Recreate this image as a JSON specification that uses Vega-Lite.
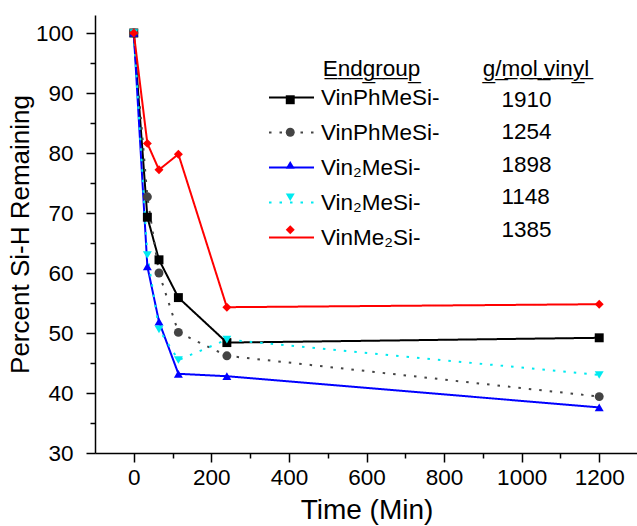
{
  "$schema": "https://vega.github.io/schema/vega-lite/v6.json",
  "width": 543,
  "height": 438,
  "autosize": {"type": "none"},
  "padding": {"left": 95, "top": 15, "right": 0, "bottom": 73},
  "background": "white",
  "config": {
    "view": {"stroke": null},
    "font": "Liberation Sans",
    "axis": {
      "domainColor": "#000000", "domainWidth": 1.5,
      "tickColor": "#000000", "tickWidth": 1.5,
      "labelColor": "#000000", "labelFont": "Liberation Sans", "labelFontSize": 22.5, "labelPadding": 4,
      "titleFont": "Liberation Sans", "titleFontSize": 26, "titleFontWeight": "normal", "titleColor": "#000000",
      "grid": false
    },
    "legend": {
      "orient": "none",
      "padding": 0,
      "labelFont": "Liberation Sans", "labelFontSize": 22.5, "labelColor": "#000000", "labelLimit": 300,
      "titleFont": "Liberation Sans", "titleFontSize": 22.5, "titleFontWeight": "normal", "titleColor": "#000000", "titleLimit": 500,
      "rowPadding": 8,
      "titlePadding": 8
    }
  },
  "data": {
    "values": [
      {"series": "s1", "marker": "m1", "time": 0, "pct": 100},
      {"series": "s1", "marker": "m1", "time": 35, "pct": 69.3},
      {"series": "s1", "marker": "m1", "time": 65, "pct": 62.2},
      {"series": "s1", "marker": "m1", "time": 115, "pct": 55.9},
      {"series": "s1", "marker": "m1", "time": 240, "pct": 48.4},
      {"series": "s1", "marker": "m1", "time": 1200, "pct": 49.2},
      {"series": "s2", "marker": "m2", "time": 0, "pct": 100},
      {"series": "s2", "marker": "m2", "time": 35, "pct": 72.7},
      {"series": "s2", "marker": "m2", "time": 65, "pct": 60.0},
      {"series": "s2", "marker": "m2", "time": 115, "pct": 50.1},
      {"series": "s2", "marker": "m2", "time": 240, "pct": 46.2},
      {"series": "s2", "marker": "m2", "time": 1200, "pct": 39.4},
      {"series": "s3", "marker": "m3", "time": 0, "pct": 100},
      {"series": "s3", "marker": "m3", "time": 35, "pct": 61.1},
      {"series": "s3", "marker": "m3", "time": 65, "pct": 51.9},
      {"series": "s3", "marker": "m3", "time": 115, "pct": 43.2},
      {"series": "s3", "marker": "m3", "time": 240, "pct": 42.8},
      {"series": "s3", "marker": "m3", "time": 1200, "pct": 37.6},
      {"series": "s4", "marker": "m4", "time": 0, "pct": 100},
      {"series": "s4", "marker": "m4", "time": 35, "pct": 63.0},
      {"series": "s4", "marker": "m4", "time": 65, "pct": 50.6},
      {"series": "s4", "marker": "m4", "time": 115, "pct": 45.5},
      {"series": "s4", "marker": "m4", "time": 240, "pct": 48.9},
      {"series": "s4", "marker": "m4", "time": 1200, "pct": 43.0},
      {"series": "s5", "marker": "m5", "time": 0, "pct": 100},
      {"series": "s5", "marker": "m5", "time": 35, "pct": 81.6},
      {"series": "s5", "marker": "m5", "time": 65, "pct": 77.2},
      {"series": "s5", "marker": "m5", "time": 115, "pct": 79.8},
      {"series": "s5", "marker": "m5", "time": 240, "pct": 54.3},
      {"series": "s5", "marker": "m5", "time": 1200, "pct": 54.8}
    ]
  },
  "encoding": {
    "x": {
      "field": "time", "type": "quantitative",
      "scale": {"domain": [-100, 1300], "nice": false, "zero": false},
      "axis": {
        "title": "Time (Min)",
        "format": "d",
        "values": [0, 100, 200, 300, 400, 500, 600, 700, 800, 900, 1000, 1100, 1200],
        "labelExpr": "datum.value % 200 === 0 ? datum.label : ''",
        "tickSize": {"condition": {"test": "datum.value % 200 === 0", "value": 9}, "value": 5},
        "titleFontSize": 28,
        "titlePadding": 8
      }
    },
    "y": {
      "field": "pct", "type": "quantitative",
      "scale": {"domain": [30, 103], "nice": false, "zero": false},
      "axis": {
        "title": "Percent Si-H Remaining",
        "values": [30, 35, 40, 45, 50, 55, 60, 65, 70, 75, 80, 85, 90, 95, 100],
        "labelExpr": "datum.value % 10 === 0 ? datum.label : ''",
        "tickSize": {"condition": {"test": "datum.value % 10 === 0", "value": 9}, "value": 5},
        "labelPadding": 13,
        "titlePadding": 2
      }
    }
  },
  "layer": [
    {
      "mark": {"type": "line", "strokeWidth": 2},
      "encoding": {
        "color": {
          "field": "series", "type": "nominal",
          "scale": {"domain": ["s1", "s2", "s3", "s4", "s5"], "range": ["#000000", "#444444", "#0000ff", "#00eaf0", "#ff0000"]},
          "legend": {
            "title": null,
            "legendX": 173, "legendY": 59,
            "symbolSize": 2025,
            "symbolStrokeWidth": 2,
            "labelOffset": 6,
            "rowPadding": 0,
            "labelExpr": "datum.value=='s1'||datum.value=='s2' ? 'VinPhMeSi-' : datum.value=='s5' ? 'VinMe₂Si-' : 'Vin₂MeSi-'"
          }
        },
        "strokeDash": {
          "field": "series", "type": "nominal",
          "scale": {"domain": ["s1", "s2", "s3", "s4", "s5"], "range": [[1, 0], [2.5, 8], [1, 0], [2.5, 8], [1, 0]]}
        }
      }
    },
    {
      "mark": {"type": "point", "filled": true, "size": 80, "opacity": 1},
      "encoding": {
        "fill": {
          "field": "marker", "type": "nominal",
          "scale": {"domain": ["m1", "m2", "m3", "m4", "m5"], "range": ["#000000", "#444444", "#0000ff", "#00eaf0", "#ff0000"]},
          "legend": {
            "title": "\u200b\u00a0\u00a0\u00a0\u00a0\u00a0\u00a0\u00a0E̲n̲d̲g̲r̲o̲u̲p̲\u00a0\u00a0\u00a0\u00a0\u00a0\u00a0\u00a0\u00a0\u00a0\u00a0g̲/̲m̲o̲l̲ ̲v̲i̲n̲y̲l̲",
            "legendX": 184, "legendY": 43,
            "symbolSize": 80,
            "symbolStrokeWidth": 0,
            "symbolOpacity": 1,
            "rowPadding": 9.5,
            "labelOffset": 200,
            "labelExpr": "datum.value=='m1' ? '1910' : datum.value=='m2' ? '1254' : datum.value=='m3' ? '1898' : datum.value=='m4' ? '1148' : '1385'"
          }
        },
        "shape": {
          "field": "marker", "type": "nominal",
          "scale": {"domain": ["m1", "m2", "m3", "m4", "m5"], "range": ["square", "circle", "triangle-up", "triangle-down", "diamond"]}
        }
      }
    }
  ]
}
